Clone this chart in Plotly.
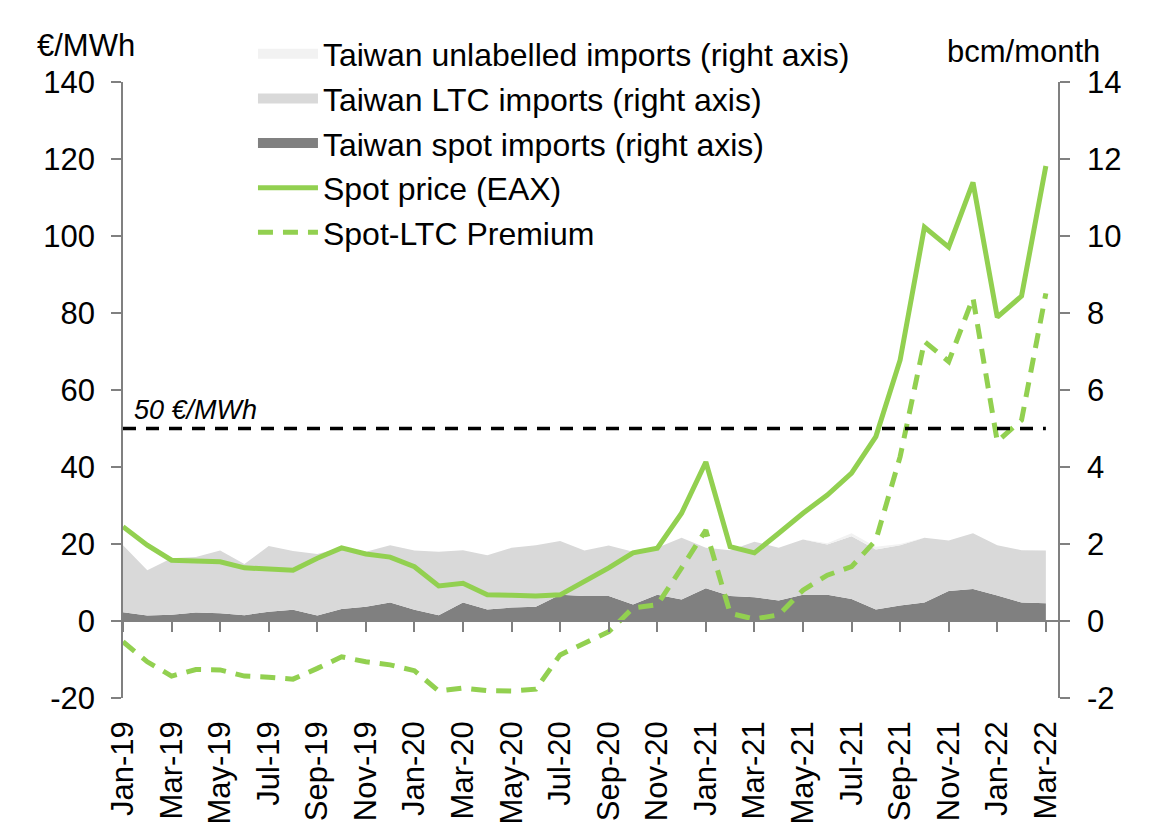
import plotly.graph_objects as go

months = ["Jan-19", "Feb-19", "Mar-19", "Apr-19", "May-19", "Jun-19", "Jul-19", "Aug-19",
          "Sep-19", "Oct-19", "Nov-19", "Dec-19", "Jan-20", "Feb-20", "Mar-20", "Apr-20",
          "May-20", "Jun-20", "Jul-20", "Aug-20", "Sep-20", "Oct-20", "Nov-20", "Dec-20",
          "Jan-21", "Feb-21", "Mar-21", "Apr-21", "May-21", "Jun-21", "Jul-21", "Aug-21",
          "Sep-21", "Oct-21", "Nov-21", "Dec-21", "Jan-22", "Feb-22", "Mar-22"]

# bcm/month (right axis)
spot_imports = [0.23, 0.14, 0.16, 0.22, 0.20, 0.15, 0.24, 0.29, 0.14, 0.31, 0.37, 0.48, 0.29,
                0.15, 0.48, 0.30, 0.35, 0.37, 0.68, 0.65, 0.65, 0.43, 0.68, 0.56, 0.85, 0.65,
                0.62, 0.53, 0.68, 0.68, 0.57, 0.30, 0.40, 0.48, 0.78, 0.83, 0.66, 0.48, 0.46]
ltc_imports = [1.74, 1.18, 1.47, 1.44, 1.63, 1.33, 1.71, 1.53, 1.60, 1.59, 1.43, 1.49, 1.54,
               1.65, 1.36, 1.41, 1.55, 1.60, 1.40, 1.18, 1.31, 1.37, 1.22, 1.60, 1.05, 1.19,
               1.44, 1.37, 1.44, 1.31, 1.63, 1.56, 1.57, 1.68, 1.31, 1.45, 1.31, 1.36, 1.37]
unlabelled_imports = [0.0, 0.0, 0.0, 0.0, 0.0, 0.0, 0.0, 0.0, 0.0, 0.0, 0.0, 0.0, 0.0,
                      0.0, 0.0, 0.0, 0.0, 0.0, 0.0, 0.0, 0.0, 0.0, 0.0, 0.0, 0.0, 0.0,
                      0.0, 0.0, 0.0, 0.03, 0.08, 0.07, 0.03, 0.0, 0.0, 0.0, 0.0, 0.0, 0.0]

# EUR/MWh (left axis)
spot_price = [24.5, 19.7, 15.8, 15.6, 15.4, 13.8, 13.5, 13.2, 16.3, 19.0, 17.4, 16.6, 14.1,
              9.1, 9.8, 6.8, 6.7, 6.5, 6.8, 10.2, 13.8, 17.7, 18.9, 28.0, 41.3, 19.3,
              17.7, 22.8, 28.0, 32.7, 38.4, 47.9, 67.8, 102.3, 97.1, 113.9, 78.9, 84.4, 118.2]
premium = [-5.4, -10.6, -14.3, -12.6, -12.7, -14.3, -14.6, -15.1, -12.3, -9.3, -10.6, -11.4, -12.9,
           -18.2, -17.4, -18.1, -18.2, -17.7, -8.8, -5.7, -2.8, 3.4, 4.2, 13.8, 23.6, 2.0,
           0.5, 1.6, 8.0, 11.9, 14.1, 21.0, 42.7, 72.6, 67.4, 83.9, 46.6, 52.2, 85.1]
threshold = [50] * len(months)

tick_labels = months[::2]
left_ticks = [-20, 0, 20, 40, 60, 80, 100, 120, 140]
left_tick_text = ["-20", "0", "20", "40", "60", "80", "100", "120", "140"]
right_ticks = [-2, 0, 2, 4, 6, 8, 10, 12, 14]
right_tick_text = ["-2", "0", "2", "4", "6", "8", "10", "12", "14"]

GREEN = "#92D050"
FONT = "Liberation Sans, Arial, sans-serif"
area_names = ["Taiwan unlabelled imports (right axis)", "Taiwan LTC imports (right axis)",
              "Taiwan spot imports (right axis)"]
area_colors = ["#F2F2F2", "#D9D9D9", "#808080"]

fig = go.Figure()

fig.add_trace(go.Scatter(x=months, y=spot_imports, name=area_names[2],
                         stackgroup="imp", mode="none", fillcolor=area_colors[2], yaxis="y",
                         showlegend=False))
fig.add_trace(go.Scatter(x=months, y=ltc_imports, name=area_names[1],
                         stackgroup="imp", mode="none", fillcolor=area_colors[1], yaxis="y",
                         showlegend=False))
fig.add_trace(go.Scatter(x=months, y=unlabelled_imports, name=area_names[0],
                         stackgroup="imp", mode="none", fillcolor=area_colors[0], yaxis="y",
                         showlegend=False))

# legend entries for the areas (rectangular swatches)
for rank, (nm, col) in enumerate(zip(area_names, area_colors), start=1):
    fig.add_trace(go.Scatter(x=[None], y=[None], name=nm, mode="lines", yaxis="y",
                             line=dict(color=col, width=15), legendrank=rank,
                             hoverinfo="skip"))

fig.add_trace(go.Scatter(x=months, y=threshold, mode="lines", xaxis="x2", yaxis="y2",
                         line=dict(color="black", width=3.5, dash="13px,10px"),
                         showlegend=False, hoverinfo="skip"))
fig.add_trace(go.Scatter(x=months, y=spot_price, name="Spot price (EAX)", mode="lines",
                         yaxis="y2", line=dict(color=GREEN, width=5), legendrank=4))
fig.add_trace(go.Scatter(x=months, y=premium, name="Spot-LTC Premium", mode="lines",
                         yaxis="y2", line=dict(color=GREEN, width=5, dash="15px,10px"),
                         legendrank=5))

axis_font = dict(family=FONT, size=31, color="black")

# page body adds an 8px offset, so the figure is 8px smaller and shifted
fig.update_layout(
    width=1150, height=822,
    margin=dict(l=115, r=100, t=74, b=132, autoexpand=False),
    plot_bgcolor="white", paper_bgcolor="white",
    font=dict(family=FONT, size=31, color="black"),
    showlegend=True,
    legend=dict(x=0.139, y=1.09, xanchor="left", yanchor="top",
                font=dict(family=FONT, size=32, color="black"),
                itemwidth=60, tracegroupgap=6, traceorder="normal",
                bgcolor="rgba(0,0,0,0)"),
    xaxis=dict(type="category", categoryarray=months, range=[0, 38.5],
               tickmode="array", tickvals=tick_labels, ticktext=tick_labels,
               tickangle=-90, tickfont=axis_font, ticks="", showline=False,
               showgrid=False, zeroline=False, ticklabelstandoff=16),
    xaxis2=dict(type="category", categoryarray=months, range=[0, 38.5],
                overlaying="x", anchor="free", position=0.125,
                tickmode="array", tickvals=tick_labels, showticklabels=False,
                ticks="outside", ticklen=10, tickwidth=1.5, tickcolor="#808080",
                showline=True, linecolor="#808080", linewidth=2,
                showgrid=False, zeroline=False),
    yaxis=dict(range=[-2, 14], tickmode="array", tickvals=right_ticks, ticktext=right_tick_text,
               side="right", tickfont=axis_font,
               ticks="outside", ticklen=10, tickwidth=1.5, tickcolor="#808080",
               showline=True, linecolor="#808080", linewidth=1.5,
               showgrid=False, zeroline=False, ticklabelstandoff=11),
    yaxis2=dict(range=[-20, 140], tickmode="array", tickvals=left_ticks, ticktext=left_tick_text,
                side="left", overlaying="y", tickfont=axis_font,
                ticks="outside", ticklen=10, tickwidth=1.5, tickcolor="#808080",
                showline=True, linecolor="#808080", linewidth=1.5,
                showgrid=False, zeroline=False, ticklabelstandoff=10),
)

fig.add_annotation(text="€/MWh", xref="paper", yref="paper", x=-0.094, y=1.06,
                   xanchor="left", yanchor="middle", showarrow=False,
                   font=dict(family=FONT, size=31, color="black"))
fig.add_annotation(text="bcm/month", xref="paper", yref="paper", x=0.963, y=1.049,
                   xanchor="center", yanchor="middle", showarrow=False,
                   font=dict(family=FONT, size=31, color="black"))
fig.add_annotation(text="<i>50 €/MWh</i>", xref="paper", yref="y2", x=0.01, y=50,
                   xanchor="left", yanchor="bottom", yshift=2, showarrow=False,
                   font=dict(family=FONT, size=27, color="black"))

fig.write_html("out.html")
